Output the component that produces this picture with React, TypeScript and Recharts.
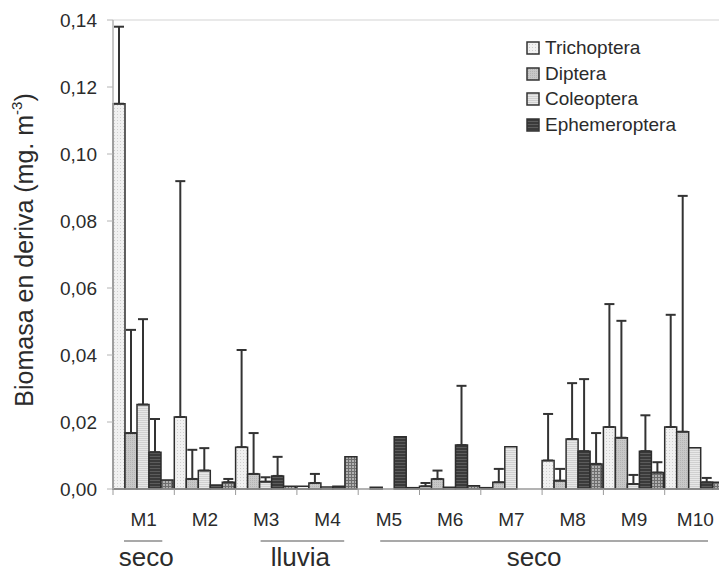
import React from 'react';
import { BarChart, Bar, XAxis, YAxis, ErrorBar, Legend, ReferenceLine } from 'recharts';

const months = ['M1', 'M2', 'M3', 'M4', 'M5', 'M6', 'M7', 'M8', 'M9', 'M10'];
const seriesNames = ['Trichoptera', 'Diptera', 'Coleoptera', 'Ephemeroptera', 'Otros'];

// mean biomass per month
const trichoptera = [0.115, 0.0215, 0.0125, 0.0008, 0.0, 0.0008, 0.0004, 0.0085, 0.0185, 0.0185];
const diptera = [0.0167, 0.003, 0.0045, 0.0018, 0.0005, 0.003, 0.002, 0.0025, 0.0153, 0.0171];
const coleoptera = [0.0252, 0.0055, 0.0022, 0.0006, 0.0, 0.0005, 0.0126, 0.0149, 0.0015, 0.0123];
const ephemeroptera = [0.011, 0.0012, 0.0039, 0.0008, 0.0156, 0.0131, 0.0, 0.0113, 0.0113, 0.002];
const otros = [0.0027, 0.002, 0.0008, 0.0096, 0.0004, 0.001, 0.0, 0.0075, 0.0049, 0.002];

// top of the error bar (null = no error bar)
const trichopteraTop = [0.138, 0.0919, 0.0415, null, null, 0.0018, null, 0.0224, 0.0552, 0.052];
const dipteraTop = [0.0475, 0.0117, 0.0167, 0.0045, null, 0.0055, 0.006, 0.006, 0.0502, 0.0875];
const coleopteraTop = [0.0507, 0.0122, 0.0035, null, null, null, null, 0.0316, 0.0042, null];
const ephemeropteraTop = [0.0209, null, 0.0096, null, null, 0.0308, null, 0.0328, 0.022, 0.0033];
const otrosTop = [null, 0.003, null, null, null, null, null, 0.0167, 0.008, null];

const yTicks = [0, 0.02, 0.04, 0.06, 0.08, 0.1, 0.12, 0.14];

const groups = [
  { label: 'seco', from: 0, to: 0 },
  { label: 'lluvia', from: 2, to: 3 },
  { label: 'seco', from: 4, to: 9 },
];

// layout only: line insets (left, right) and text shift for each group
const groupLayout = [
  { inL: 11, inR: 12, dx: 3 },
  { inL: 25, inR: 14, dx: -2 },
  { inL: 22, inR: 18, dx: -10 },
];

const keys = ['tri', 'dip', 'col', 'eph', 'otr'];
const values = [trichoptera, diptera, coleoptera, ephemeroptera, otros];
const tops = [trichopteraTop, dipteraTop, coleopteraTop, ephemeropteraTop, otrosTop];

const data = months.map((m, i) => {
  const row: Record<string, any> = { month: m };
  keys.forEach((k, s) => {
    const v = values[s][i];
    const t = tops[s][i];
    row[k] = v;
    row[k + 'Err'] = t == null ? null : [0, Math.max(0, t - v)];
  });
  return row;
});

const FONT = '"Liberation Sans", Arial, sans-serif';
const TEXT = '#2b2b2b';
const CHART_W = 727;
const CHART_H = 571;
const MARGIN = { top: 20, right: 1, bottom: 52, left: 0 };
const YAXIS_W = 113;
const XAXIS_H = 30;
const BAND = (CHART_W - MARGIN.left - MARGIN.right - YAXIS_W) / months.length;

const fills = ['url(#triP)', 'url(#dipP)', 'url(#colP)', 'url(#ephP)', 'url(#otrP)'];

const Patterns = () => (
  <svg width={0} height={0} style={{ position: 'absolute' }}>
    <defs>
      <pattern id="triP" width={3} height={3} patternUnits="userSpaceOnUse">
        <rect width={3} height={3} fill="#f1f1f1" />
        <rect width={1} height={1} fill="#cfcfcf" />
      </pattern>
      <pattern id="dipP" width={2} height={2} patternUnits="userSpaceOnUse">
        <rect width={2} height={2} fill="#c8c8c8" />
        <rect width={1} height={1} fill="#b4b4b4" />
      </pattern>
      <pattern id="colP" width={3} height={2} patternUnits="userSpaceOnUse">
        <rect width={3} height={2} fill="#e8e8e8" />
        <rect width={3} height={1} fill="#d0d0d0" />
      </pattern>
      <pattern id="ephP" width={3} height={3} patternUnits="userSpaceOnUse">
        <rect width={3} height={3} fill="#3a3a3a" />
        <rect width={3} height={1} fill="#5c5c5c" />
      </pattern>
      <pattern id="otrP" width={3} height={3} patternUnits="userSpaceOnUse">
        <rect width={3} height={3} fill="#b0b0b0" />
        <rect width={3} height={1} fill="#6e6e6e" />
        <rect width={1} height={3} fill="#6e6e6e" />
      </pattern>
    </defs>
  </svg>
);

const MonthTick = (props: any) => {
  const { x, y, payload, index } = props;
  const left = x - BAND / 2;
  const g = groups.findIndex((gr) => gr.from === index);
  return (
    <g>
      <line x1={left} y1={y} x2={left} y2={y + 6} stroke="#9a9a9a" />
      {index === months.length - 1 && (
        <line x1={left + BAND} y1={y} x2={left + BAND} y2={y + 6} stroke="#9a9a9a" />
      )}
      <text x={x} y={y + 37} textAnchor="middle" fontSize={19} fill={TEXT} fontFamily={FONT}>
        {payload.value}
      </text>
      {g >= 0 && (() => {
        const gr = groups[g];
        const lay = groupLayout[g];
        const x1 = left + lay.inL;
        const x2 = left + (gr.to - gr.from + 1) * BAND - lay.inR;
        return (
          <g>
            <line x1={x1} y1={y + 52} x2={x2} y2={y + 52} stroke="#555" strokeWidth={1.2} />
            <text
              x={(x1 + x2) / 2 + lay.dx}
              y={y + 77}
              textAnchor="middle"
              fontSize={26}
              fill={TEXT}
              fontFamily={FONT}
            >
              {gr.label}
            </text>
          </g>
        );
      })()}
    </g>
  );
};

const YLabel = () => (
  <text
    transform="translate(33,250) rotate(-90)"
    textAnchor="middle"
    fontSize={25}
    fill={TEXT}
    fontFamily={FONT}
  >
    <tspan>Biomasa en deriva (mg. m</tspan>
    <tspan fontSize={15} dy={-11}>-3</tspan>
    <tspan dy={11}>)</tspan>
  </text>
);

const renderLegend = (props: any) => {
  const items = (props.payload || [])
    .filter((p: any) => p.value !== 'Otros')
    .sort((a: any, b: any) => seriesNames.indexOf(a.value) - seriesNames.indexOf(b.value));
  return (
    <div style={{ fontFamily: FONT }}>
      {items.map((p: any) => (
        <div key={p.value} style={{ display: 'flex', alignItems: 'center', height: 25.7 }}>
          <svg width={14} height={14} style={{ marginRight: 5 }}>
            <rect x={1} y={1} width={12} height={12} fill={p.color} stroke="#333" strokeWidth={1.5} />
          </svg>
          <span style={{ fontSize: 19, color: TEXT }}>{p.value}</span>
        </div>
      ))}
    </div>
  );
};

export default function App() {
  return (
    <div
      style={{
        position: 'absolute',
        left: 0,
        top: 0,
        width: 719,
        height: 571,
        overflow: 'hidden',
        background: '#fff',
      }}
    >
      <Patterns />
      <BarChart
        width={CHART_W}
        height={CHART_H}
        data={data}
        margin={MARGIN}
        barCategoryGap={0}
        barGap={0}
      >
        <ReferenceLine y={0.14} stroke="#e2e2e2" strokeWidth={1.5} />
        <XAxis
          dataKey="month"
          height={XAXIS_H}
          axisLine={{ stroke: '#9a9a9a', strokeWidth: 1.5 }}
          tickLine={false}
          tickSize={0}
          tickMargin={0}
          interval={0}
          tick={<MonthTick />}
        />
        <YAxis
          width={YAXIS_W}
          domain={[0, 0.14]}
          ticks={yTicks}
          interval={0}
          tickFormatter={(v: number) => v.toFixed(2).replace('.', ',')}
          tick={{ fontSize: 19, fill: TEXT, fontFamily: FONT }}
          tickSize={6}
          tickMargin={10}
          axisLine={{ stroke: '#b4b4b4', strokeWidth: 1.5 }}
          tickLine={{ stroke: '#b4b4b4' }}
          label={<YLabel />}
        />
        <Legend
          layout="vertical"
          align="center"
          verticalAlign="middle"
          content={renderLegend}
          wrapperStyle={{ left: 526, top: 35, width: 190, height: 104 }}
        />
        {keys.map((k, s) => (
          <Bar
            key={k}
            dataKey={k}
            name={seriesNames[s]}
            fill={fills[s]}
            stroke="#2d2d2d"
            strokeWidth={1.5}
            isAnimationActive={false}
            legendType={s === 4 ? 'none' : 'rect'}
          >
            <ErrorBar
              dataKey={k + 'Err'}
              direction="y"
              width={5}
              stroke="#333"
              strokeWidth={2}
              isAnimationActive={false}
            />
          </Bar>
        ))}
      </BarChart>
    </div>
  );
}
